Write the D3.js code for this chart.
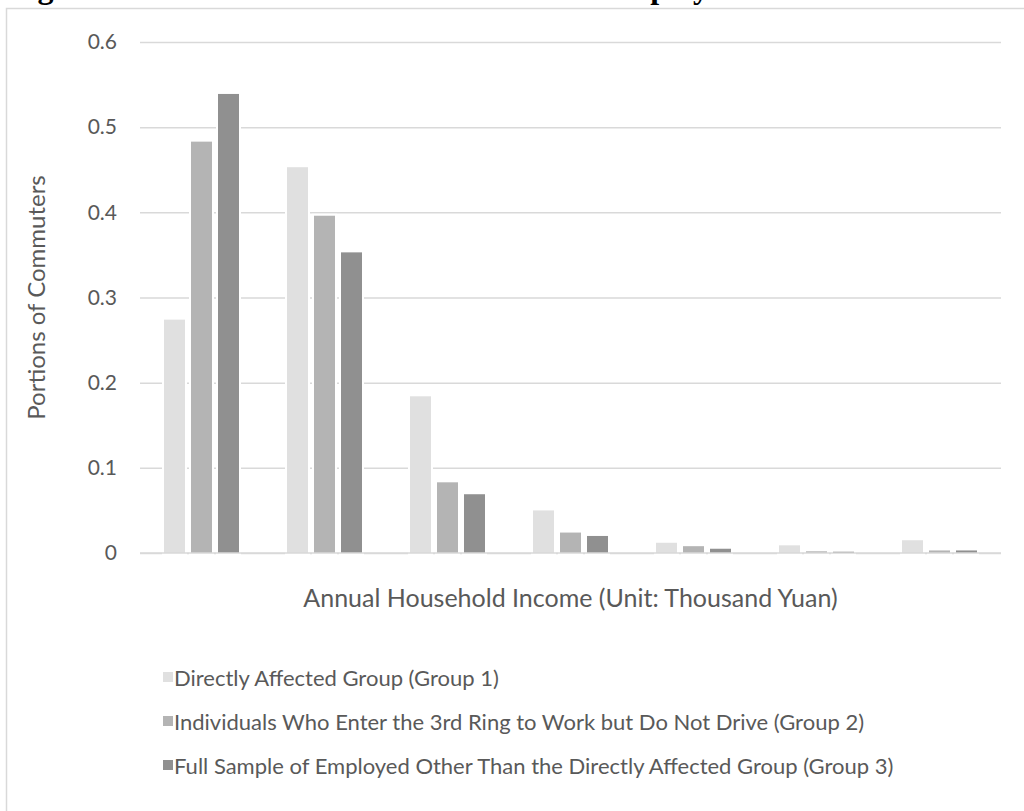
<!DOCTYPE html>
<html>
<head>
<meta charset="utf-8">
<script src="https://cdn.jsdelivr.net/npm/d3@7"></script>
<style>
  html, body { margin: 0; padding: 0; background: #fff; }
  svg { display: block; }
</style>
</head>
<body>
<svg id="chart" width="1024" height="811"></svg>
<script>
// ---- data ----
const incomeBins = ["Bin 1", "Bin 2", "Bin 3", "Bin 4", "Bin 5", "Bin 6", "Bin 7"];
const seriesNames = [
  "Directly Affected Group (Group 1)",
  "Individuals Who Enter the 3rd Ring to Work but Do Not Drive (Group 2)",
  "Full Sample of Employed Other Than the Directly Affected Group (Group 3)"
];
const group1 = [0.274, 0.453, 0.184, 0.050, 0.012, 0.009, 0.015];
const group2 = [0.483, 0.396, 0.083, 0.024, 0.008, 0.002, 0.003];
const group3 = [0.539, 0.353, 0.069, 0.020, 0.005, 0.0015, 0.003];
const yTicks = [0, 0.1, 0.2, 0.3, 0.4, 0.5, 0.6];
const titleText = "Figure 4: Household Income distribution of employed";
const yTitle = "Portions of Commuters";
const xTitle = "Annual Household Income (Unit: Thousand Yuan)";

const seriesValues = [group1, group2, group3];
const colors = ["#e0e0e0", "#b4b4b4", "#909090"];

const svg = d3.select("#chart");
const font = "Lato, 'Open Sans', sans-serif";
const textColor = "#595959";
const gridColor = "#d9d9d9";

// cut-off document title above the chart (only its lowest part shows)
svg.append("text")
  .attr("x", 9).attr("y", -2)
  .attr("font-family", "'Liberation Serif', 'Times New Roman', serif")
  .attr("font-weight", "bold")
  .attr("font-size", 32)
  .attr("fill", "#000")
  .text(titleText);

// chart frame
svg.append("rect")
  .attr("x", 6.5).attr("y", 8.5)
  .attr("width", 1100).attr("height", 900)
  .attr("fill", "#fff")
  .attr("stroke", gridColor)
  .attr("stroke-width", 1.5);

const plot = { left: 140, right: 1001, top: 42, bottom: 553 };

const y = d3.scaleLinear().domain([0, 0.6]).range([plot.bottom, plot.top]);
const x0 = d3.scaleBand().domain(incomeBins).range([plot.left, plot.right]).padding(0);
const x1 = d3.scaleBand().domain(d3.range(seriesNames.length))
  .range([0, 81]).paddingInner(6 / 27).paddingOuter(3 / 27);
const groupOffset = (x0.bandwidth() - 81) / 2;

// gridlines + tick labels
const yAxis = d3.axisLeft(y).tickValues(yTicks)
  .tickSize(-(plot.right - plot.left))
  .tickPadding(23)
  .tickFormat(d => d === 0 ? "0" : d3.format(".1f")(d));

const gAxis = svg.append("g")
  .attr("transform", `translate(${plot.left},0)`)
  .call(yAxis);
gAxis.select(".domain").remove();
gAxis.selectAll(".tick line")
  .attr("stroke", gridColor)
  .attr("stroke-width", 1.5);
gAxis.selectAll(".tick text")
  .attr("font-family", font)
  .attr("font-size", 21)
  .attr("fill", textColor);

// bars
const groups = svg.append("g").selectAll("g")
  .data(incomeBins)
  .join("g")
  .attr("transform", d => `translate(${x0(d) + groupOffset},0)`);

groups.selectAll("rect")
  .data((d, i) => seriesValues.map((vals, s) => ({ s, v: vals[i] })))
  .join("rect")
  .attr("x", d => x1(d.s))
  .attr("width", x1.bandwidth())
  .attr("y", d => y(d.v))
  .attr("height", d => y(0) - y(d.v))
  .attr("fill", d => colors[d.s])
  .attr("stroke", "#fff")
  .attr("stroke-width", 4)
  .attr("paint-order", "stroke");

// baseline redraw on top
svg.append("line")
  .attr("x1", plot.left).attr("x2", plot.right)
  .attr("y1", y(0)).attr("y2", y(0))
  .attr("stroke", gridColor).attr("stroke-width", 1.5);

// axis titles
svg.append("text")
  .attr("transform", `translate(45, ${(plot.top + plot.bottom) / 2}) rotate(-90)`)
  .attr("text-anchor", "middle")
  .attr("font-family", font)
  .attr("font-size", 24)
  .attr("fill", textColor)
  .text(yTitle);

svg.append("text")
  .attr("x", (plot.left + plot.right) / 2)
  .attr("y", 607)
  .attr("text-anchor", "middle")
  .attr("font-family", font)
  .attr("font-size", 25)
  .attr("fill", textColor)
  .text(xTitle);

// legend
const legend = svg.append("g").selectAll("g")
  .data(seriesNames)
  .join("g")
  .attr("transform", (d, i) => `translate(163, ${678 + i * 44})`);

legend.append("rect")
  .attr("x", 0).attr("y", -6)
  .attr("width", 10).attr("height", 10)
  .attr("fill", (d, i) => colors[i]);

legend.append("text")
  .attr("x", 11).attr("y", 0)
  .attr("dy", "0.35em")
  .attr("font-family", font)
  .attr("font-size", 22)
  .attr("fill", textColor)
  .text(d => d);
</script>
</body>
</html>
